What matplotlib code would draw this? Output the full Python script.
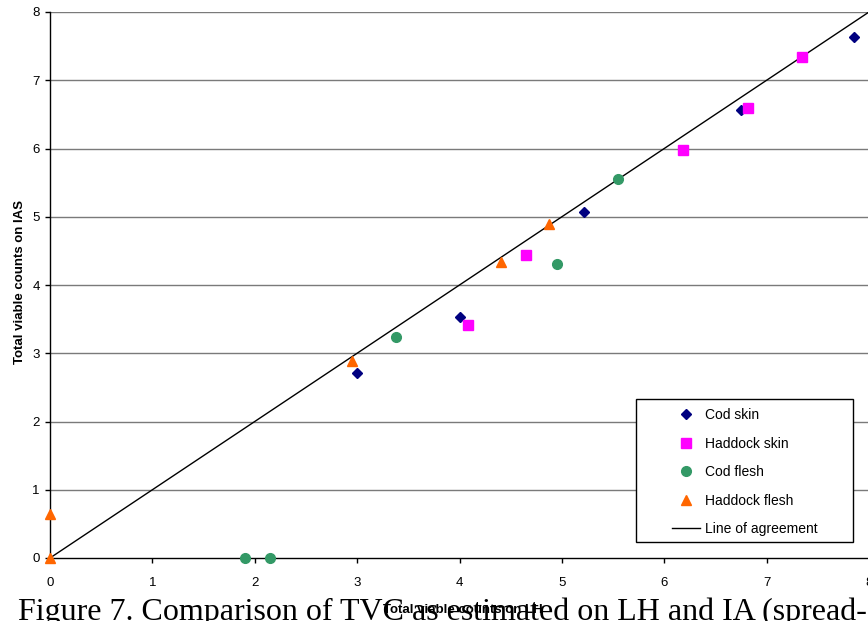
import numpy as np
import matplotlib.pyplot as plt
from matplotlib.lines import Line2D
from matplotlib.patches import Rectangle

plt.rcParams['font.family'] = ['Liberation Sans', 'DejaVu Sans']

# Total viable counts (log cfu) on LH (x) versus IAS (y)
cod_skin_x = [3.00, 4.00, 5.22, 6.75, 7.85]
cod_skin_y = [2.71, 3.53, 5.07, 6.56, 7.63]
had_skin_x = [4.08, 4.65, 6.18, 6.82, 7.35]
had_skin_y = [3.41, 4.44, 5.98, 6.59, 7.34]
cod_flesh_x = [1.90, 2.15, 3.38, 4.95, 5.55]
cod_flesh_y = [0.00, 0.00, 3.24, 4.31, 5.55]
had_flesh_x = [0.00, 0.00, 2.95, 4.41, 4.87]
had_flesh_y = [0.64, 0.00, 2.89, 4.34, 4.89]
agreement = [0, 8]

W, H = 868, 621
fig = plt.figure(figsize=(W / 100, H / 100), dpi=100)
ax = fig.add_axes([50 / W, 1 - 558 / H, 819 / W, 546 / H])

for yv in range(1, 9):
    ax.axhline(yv, color='#7a7a7a', linewidth=1.0, zorder=1)

ax.plot(agreement, agreement, color='black', linewidth=1.0, zorder=2)

styles = [
    ('D', '#000080', 5.5),
    ('s', '#ff00ff', 6.5),
    ('o', '#339966', 7),
    ('^', '#ff6600', 7),
]
series = [
    (cod_skin_x, cod_skin_y),
    (had_skin_x, had_skin_y),
    (cod_flesh_x, cod_flesh_y),
    (had_flesh_x, had_flesh_y),
]
for (m, c, ms), (xs, ys) in zip(styles, series):
    ax.plot(xs, ys, m, color=c, markersize=ms, linestyle='none',
            clip_on=False, zorder=3)

ax.set_xlim(0, 8)
ax.set_ylim(0, 8)
ax.set_xticks(range(0, 9))
ax.set_yticks(range(0, 9))
ax.tick_params(axis='both', direction='out', length=3.8, width=1, labelsize=9.5,
               color='black')
ax.tick_params(axis='x', pad=10)
ax.spines['top'].set_visible(False)
ax.spines['right'].set_visible(False)
ax.spines['left'].set_linewidth(1.0)
ax.spines['bottom'].set_linewidth(1.0)

fig.text(20 / W, 1 - 282 / H, 'Total viable counts on IAS', fontsize=9.5,
         fontweight='bold', rotation=90, ha='center', va='center')

# legend box drawn separately so it can be wider than its contents
box = Rectangle((636 / W, 1 - 542 / H), 217 / W, 143 / H, transform=fig.transFigure,
                facecolor='white', edgecolor='black', linewidth=1.0, zorder=4)
ax.add_artist(box)

handles = [Line2D([0], [0], marker=m, color=c, markersize=ms, linestyle='none')
           for m, c, ms in styles]
handles.append(Line2D([0], [0], color='black', linewidth=1.0))
labels = ['Cod skin', 'Haddock skin', 'Cod flesh', 'Haddock flesh', 'Line of agreement']
leg = fig.legend(handles, labels, loc='upper left',
                 bbox_to_anchor=(672 / W, 1 - 408 / H),
                 fontsize=10, frameon=False, borderpad=0, labelspacing=1.05,
                 handlelength=2.05, handletextpad=0.3, borderaxespad=0)
leg.set_zorder(5)

fig.text(463 / W, 1 - 610 / H, 'Total viable counts on LH', fontsize=9.5,
         fontweight='bold', ha='center', va='center')
fig.text(18 / W, 1 - 620 / H,
         'Figure 7. Comparison of TVC as estimated on LH and IA (spread-',
         fontsize=23, family=['Liberation Serif', 'DejaVu Serif'],
         ha='left', va='baseline')

fig.savefig('out.png', dpi=100)
